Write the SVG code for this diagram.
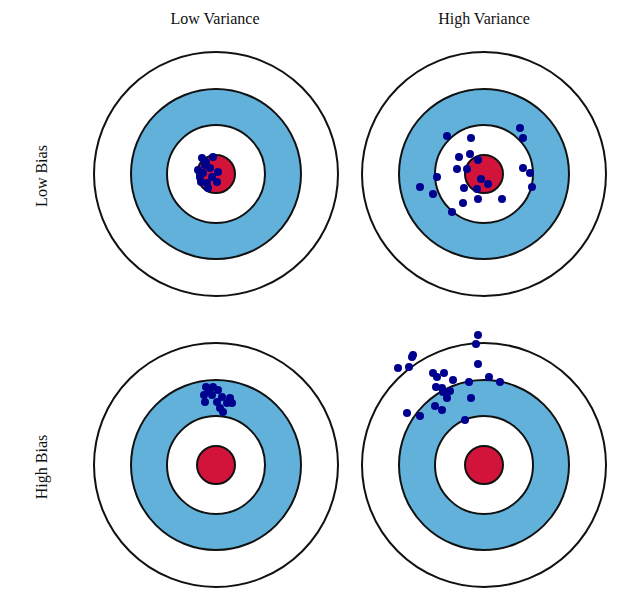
<svg xmlns="http://www.w3.org/2000/svg" width="624" height="604" viewBox="0 0 624 604">
<defs>
<style>
.o{fill:#fff;stroke:#111;stroke-width:2}
.b{fill:#62b1db;stroke:#111;stroke-width:2}
.r{fill:#d2143a;stroke:#111;stroke-width:2}
.d{fill:#00008f}
.t{font-family:"Liberation Serif",serif;font-size:16px;fill:#111;text-anchor:middle}
</style>
<g id="target">
<circle class="o" r="122"/><circle class="b" r="85"/><circle class="o" r="49"/><circle class="r" r="19"/>
</g>
</defs>
<rect width="624" height="604" fill="#fff"/>
<text class="t" x="215" y="24">Low Variance</text>
<text class="t" x="484" y="24">High Variance</text>
<text class="t" transform="translate(47,176) rotate(-90)">Low Bias</text>
<text class="t" transform="translate(47,467) rotate(-90)">High Bias</text>
<g id="lowbias-lowvar">
<use href="#target" x="216" y="174"/>
<g class="d">
<circle cx="202" cy="158" r="4"/><circle cx="213" cy="157" r="4"/><circle cx="205" cy="165" r="4"/><circle cx="198" cy="170" r="4"/><circle cx="210" cy="168" r="4"/><circle cx="218" cy="172" r="4"/><circle cx="200" cy="177" r="4"/><circle cx="212" cy="177" r="4"/><circle cx="207" cy="183" r="4"/><circle cx="217" cy="182" r="4"/><circle cx="208" cy="188" r="4"/><circle cx="203" cy="173" r="4"/><circle cx="206" cy="162" r="4"/><circle cx="201" cy="182" r="4"/>
</g></g>
<g id="lowbias-highvar">
<use href="#target" x="484" y="174"/>
<g class="d">
<circle cx="447" cy="136" r="4"/><circle cx="471" cy="138" r="4"/><circle cx="520" cy="128" r="4"/><circle cx="523" cy="138" r="4"/><circle cx="459" cy="157" r="4"/><circle cx="470" cy="154" r="4"/><circle cx="478" cy="160" r="4"/><circle cx="457" cy="169" r="4"/><circle cx="467" cy="169" r="4"/><circle cx="523" cy="168" r="4"/><circle cx="530" cy="173" r="4"/><circle cx="437" cy="177" r="4"/><circle cx="420" cy="187" r="4"/><circle cx="532" cy="187" r="4"/><circle cx="481" cy="179" r="4"/><circle cx="488" cy="184" r="4"/><circle cx="464" cy="188" r="4"/><circle cx="477" cy="189" r="4"/><circle cx="433" cy="194" r="4"/><circle cx="478" cy="199" r="4"/><circle cx="502" cy="199" r="4"/><circle cx="463" cy="203" r="4"/><circle cx="452" cy="212" r="4"/>
</g></g>
<g id="highbias-lowvar">
<use href="#target" x="216" y="465"/>
<g class="d">
<circle cx="206" cy="387" r="4"/><circle cx="213" cy="387" r="4"/><circle cx="218" cy="390" r="4"/><circle cx="204" cy="395" r="4"/><circle cx="212" cy="395" r="4"/><circle cx="222" cy="397" r="4"/><circle cx="230" cy="398" r="4"/><circle cx="205" cy="402" r="4"/><circle cx="217" cy="402" r="4"/><circle cx="227" cy="403" r="4"/><circle cx="232" cy="403" r="4"/><circle cx="220" cy="408" r="4"/><circle cx="223" cy="412" r="4"/><circle cx="209" cy="391" r="4"/>
</g></g>
<g id="highbias-highvar">
<use href="#target" x="484" y="465"/>
<g class="d">
<circle cx="478" cy="335" r="4"/><circle cx="476" cy="344" r="4"/><circle cx="413" cy="355" r="4"/><circle cx="412" cy="357" r="4"/><circle cx="398" cy="368" r="4"/><circle cx="409" cy="367" r="4"/><circle cx="478" cy="364" r="4"/><circle cx="433" cy="373" r="4"/><circle cx="444" cy="373" r="4"/><circle cx="437" cy="377" r="4"/><circle cx="453" cy="380" r="4"/><circle cx="489" cy="377" r="4"/><circle cx="500" cy="382" r="4"/><circle cx="469" cy="382" r="4"/><circle cx="436" cy="387" r="4"/><circle cx="442" cy="388" r="4"/><circle cx="450" cy="391" r="4"/><circle cx="443" cy="392" r="4"/><circle cx="447" cy="398" r="4"/><circle cx="471" cy="398" r="4"/><circle cx="435" cy="406" r="4"/><circle cx="442" cy="410" r="4"/><circle cx="407" cy="413" r="4"/><circle cx="420" cy="416" r="4"/><circle cx="465" cy="420" r="4"/>
</g></g>
</svg>
